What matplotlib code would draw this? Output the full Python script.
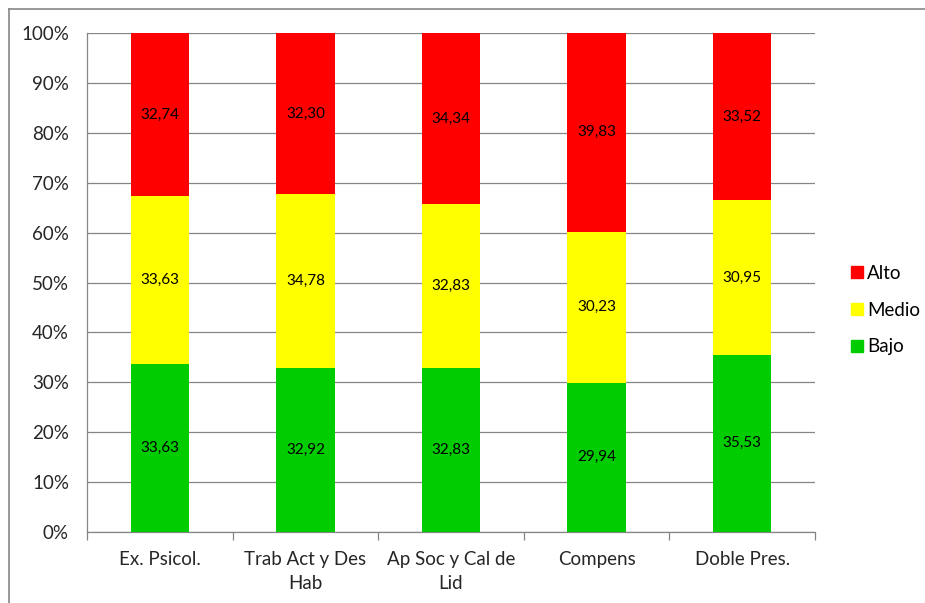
import numpy as np
import matplotlib.pyplot as plt
from matplotlib.lines import Line2D
from matplotlib.ticker import FuncFormatter

plt.rcParams['font.family'] = ['Lato', 'DejaVu Sans']

categories = ['Ex. Psicol.', 'Trab Act y Des\nHab', 'Ap Soc y Cal de\nLid', 'Compens', 'Doble Pres.']
bajo = [33.63, 32.92, 32.83, 29.94, 35.53]
medio = [33.63, 34.78, 32.83, 30.23, 30.95]
alto = [32.74, 32.30, 34.34, 39.83, 33.52]

series = [('Bajo', bajo, '#00cc00'), ('Medio', medio, '#ffff00'), ('Alto', alto, '#ff0000')]

fig = plt.figure(figsize=(9.25, 6.03), dpi=100)
ax = fig.add_axes([87 / 925, 71 / 603, 728 / 925, 499 / 603])

x = np.arange(len(categories))
totals = np.sum([bajo, medio, alto], axis=0)
bottom = np.zeros(len(categories))
for name, vals, color in series:
    share = np.array(vals) / totals * 100
    ax.bar(x, share, 0.4, bottom=bottom, color=color, label=name, zorder=3)
    for xi, b, s, v in zip(x, bottom, share, vals):
        ax.text(xi, b + s / 2, f'{v:.2f}'.replace('.', ','), ha='center', va='center',
                fontsize=11, color='black', zorder=4)
    bottom += share

ax.set_xlim(-0.5, len(categories) - 0.5)
ax.set_ylim(0, 100)
ax.set_yticks(np.arange(0, 101, 10))
ax.yaxis.set_major_formatter(FuncFormatter(lambda v, p: f'{v:.0f}%'))
ax.grid(axis='y', color='#868686', linewidth=0.9, zorder=0)

ax.set_xticks(x)
ax.set_xticklabels(categories, fontsize=13.5, color='#262626', linespacing=1.45)
ax.tick_params(axis='x', length=0, pad=14)
ax.set_xticks(np.arange(-0.5, len(categories)), minor=True)
ax.tick_params(axis='x', which='minor', length=6, color='#868686', width=0.9)
ax.tick_params(axis='y', length=0, labelsize=13.5, labelcolor='#262626', pad=13)

for side in ['top', 'right']:
    ax.spines[side].set_visible(False)
for side in ['left', 'bottom']:
    ax.spines[side].set_color('#868686')
    ax.spines[side].set_linewidth(0.9)

handles = [Line2D([], [], marker='s', linestyle='none', markersize=9, color=c)
           for c in ['#ff0000', '#ffff00', '#00cc00']]
fig.legend(handles, ['Alto', 'Medio', 'Bajo'], loc='center left',
           bbox_to_anchor=(838 / 925, 1 - 310 / 603), frameon=False, fontsize=13.5,
           handletextpad=0.05, labelspacing=1.05, handlelength=1.0, borderpad=0)

# outer chart frame (left and top edges visible)
fig.add_artist(Line2D([9 / 925, 9 / 925], [0, 1 - 9 / 603], transform=fig.transFigure,
                      color='#868686', linewidth=1.2))
fig.add_artist(Line2D([9 / 925, 1], [1 - 9 / 603, 1 - 9 / 603], transform=fig.transFigure,
                      color='#868686', linewidth=1.2))

fig.savefig('out.png', dpi=100, facecolor='white')
